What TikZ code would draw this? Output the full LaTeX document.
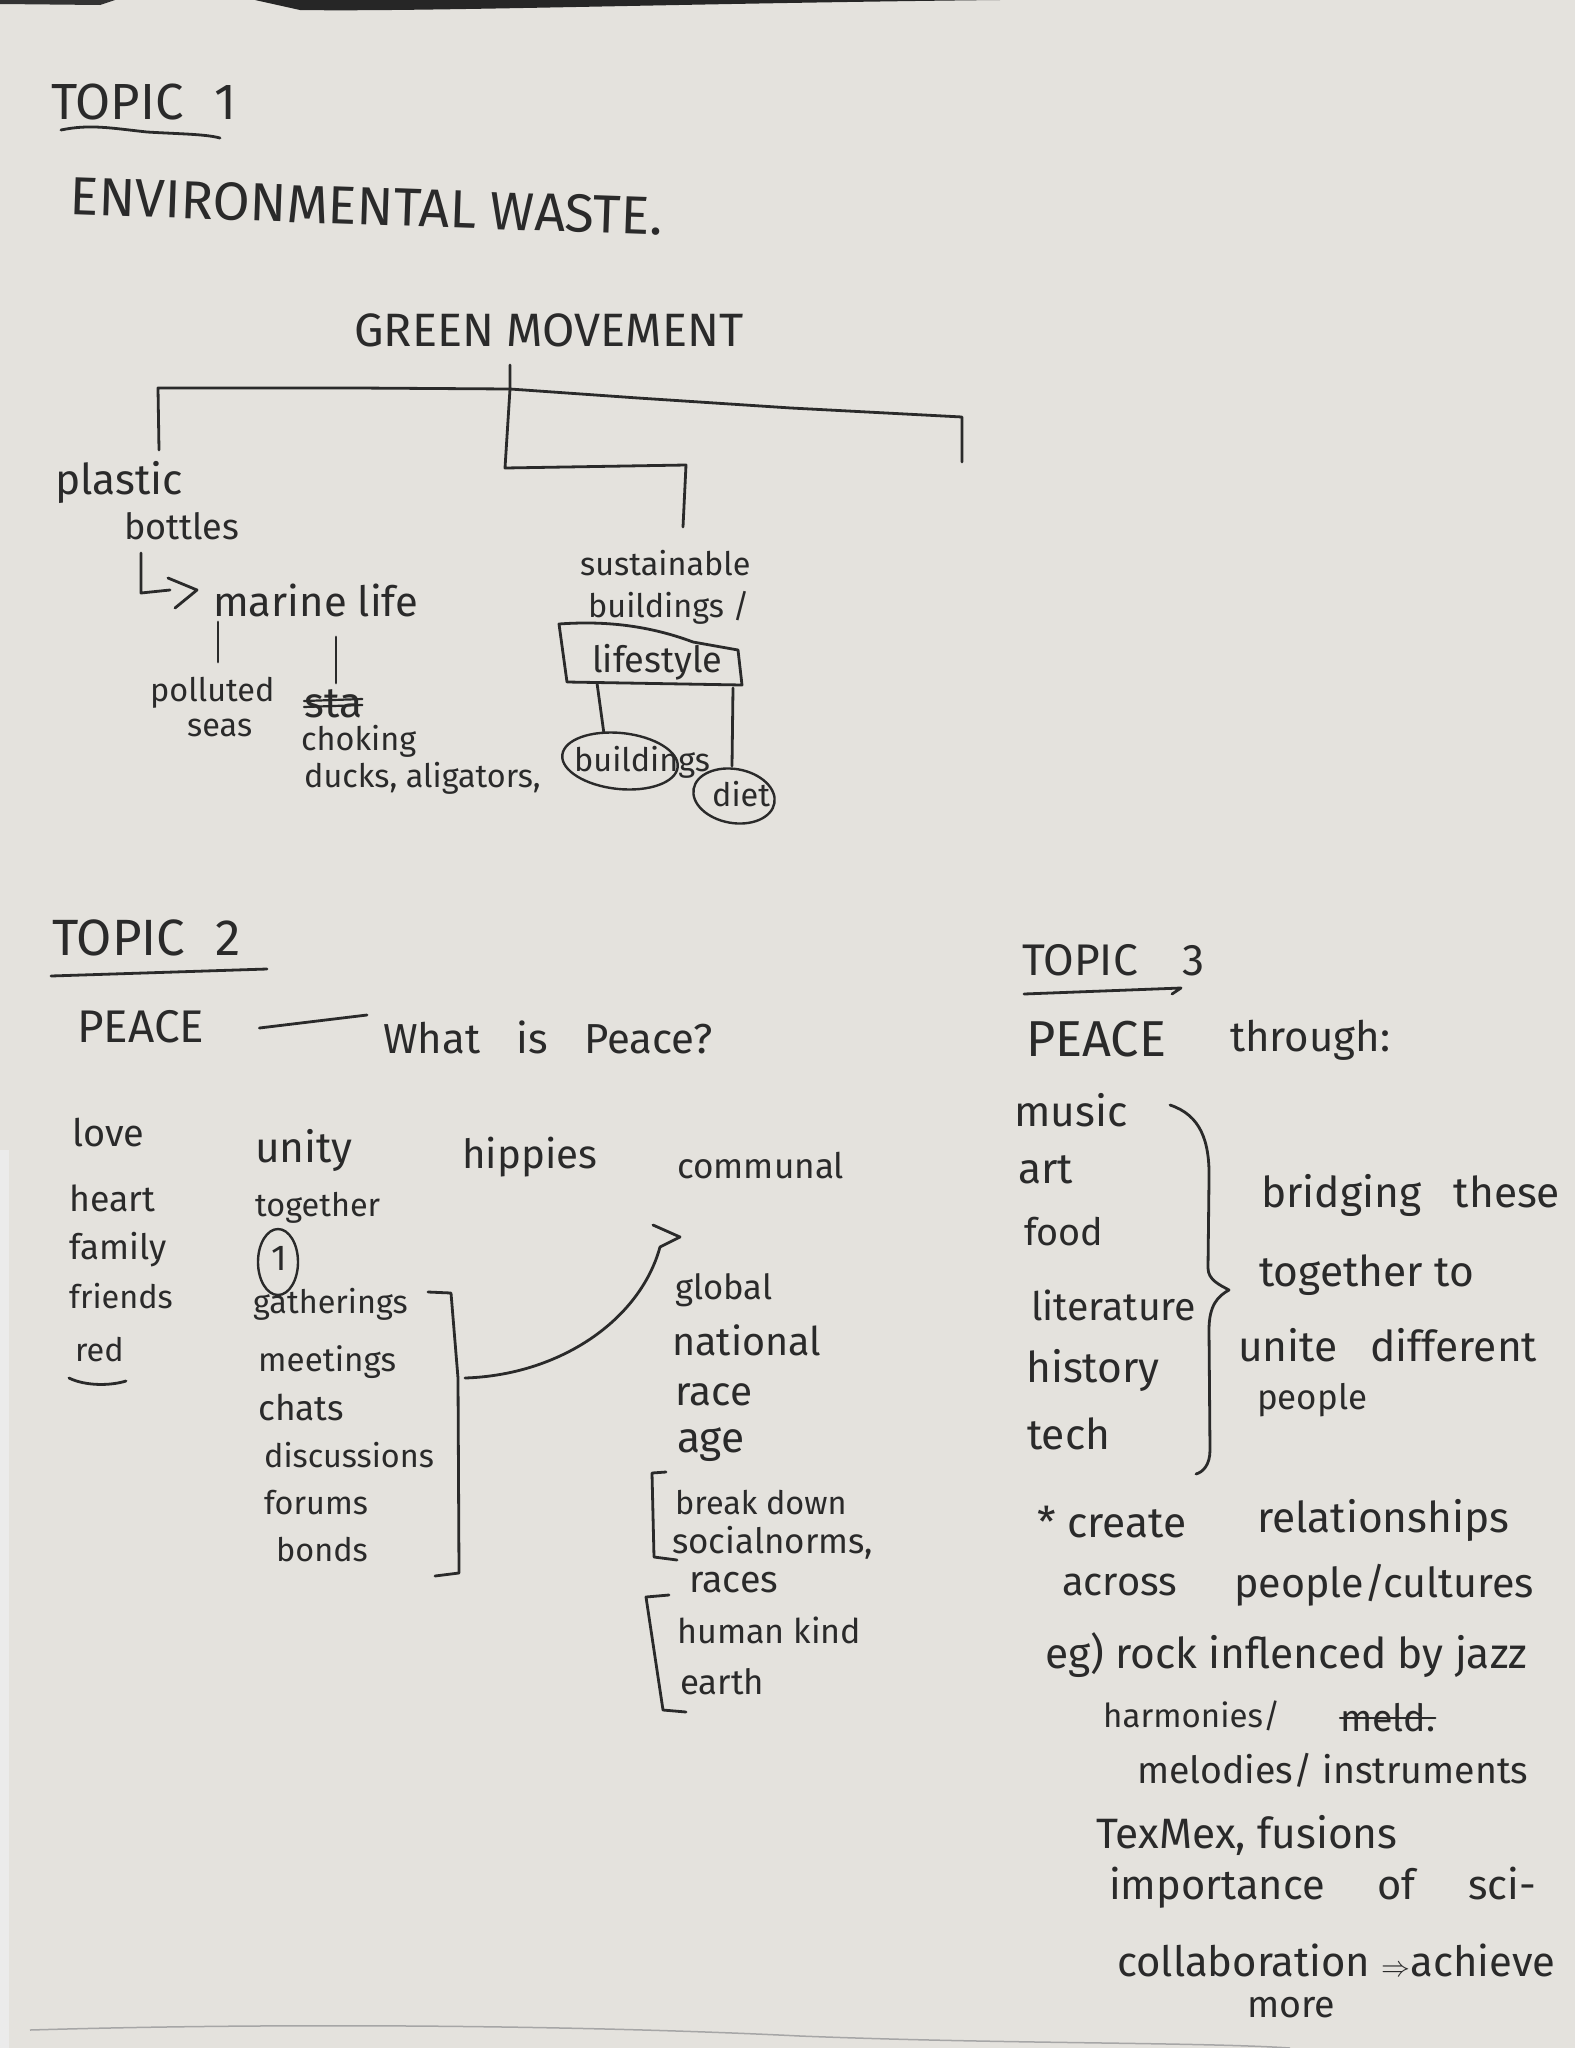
\documentclass[tikz,border=0pt]{standalone}
\usepackage{fontspec}
\usepackage{graphicx}
\setmainfont{Fira Sans}
\usetikzlibrary{shapes.geometric}
\definecolor{paper}{HTML}{E4E2DD}
\definecolor{ink}{HTML}{2A2A2A}
\newlength\hwlen
\newcommand\hw[2]{\settowidth\hwlen{#2}\pgfmathsetmacro\hwsc{max(0.9,min(1.18,#1/\hwlen))}\scalebox{\hwsc}{#2}}
\newcommand\hwc[2]{\settowidth\hwlen{#2}\pgfmathsetmacro\hwsc{max(0.8,min(1.7,#1/\hwlen))}\scalebox{\hwsc}{#2}}
\begin{document}
\begin{tikzpicture}[x=1pt,y=-1pt,
  lbl/.style={inner sep=0pt, anchor=west, text=ink, font=\fontsize{36}{40}\selectfont},
  pen/.style={draw=ink, line width=2.8pt, line cap=round, line join=round},
  thinpen/.style={draw=ink, line width=2.2pt, line cap=round, line join=round},
  ring/.style={draw=ink, line width=2.4pt, ellipse, inner sep=0pt}]
\useasboundingbox (0,0) rectangle (1575,2048);
\fill[paper] (0,0) rectangle (1575,2048);
% photo edges
\fill[black!85] (255,0) -- (1000,0) .. controls (700,3) and (420,12) .. (300,10) -- cycle;
\fill[black!80] (0,0) -- (115,0) -- (100,5) -- (0,4) -- cycle;
\fill[black!8] (0,1150) rectangle (9,2048);
\draw[black!35, line width=1.5pt] (30,2030) .. controls (300,2022) and (600,2026) .. (800,2036) .. controls (1000,2044) and (1200,2042) .. (1290,2048);

% ---------- TOPIC 1 ----------
\node[lbl] (t1) at (51,102) {\hwc{185}{TOPIC\hspace{0.6em}1}};
\draw[pen] (61,130) .. controls (90,124) and (110,128) .. (147,132) .. controls (180,134) and (205,134) .. (220,138);
\node[lbl, rotate=-2] (env) at (70,196) {\hwc{593}{ENVIRONMENTAL WASTE.}};
\node[lbl] (gm) at (354,330) {\hwc{389}{GREEN MOVEMENT}};

\coordinate (gmtop) at (510,365);
\coordinate (j) at (510,389);
\coordinate (lft) at (159,450);
\coordinate (rgt) at (962,462);
\coordinate (mid1) at (505,468);
\coordinate (mid2) at (686,465);
\coordinate (sus) at (683,527);
\draw[pen] (lft) -- (158,388) -- (357,388) -- (j) -- (638,398) -- (791,408) -- (962,417) -- (rgt);
\draw[pen] (gmtop) -- (j) -- (mid1) -- (mid2) -- (sus);

\node[lbl] (plastic) at (55,482) {\hw{128}{plastic}};
\node[lbl] (bottles) at (124,526) {\hw{115}{bottles}};
\draw[pen] (141,553) -- (141,593) -- (170,590);
\draw[pen] (168,578) -- (197,590) -- (175,608);
\node[lbl] (marine) at (213,600) {\hw{205}{marine life}};
\draw[pen] (218,622) -- (218,662);
\draw[pen] (336,637) -- (336,683);
\node[lbl] (polluted) at (150,693) {\hw{106}{polluted}};
\node[lbl] (seas) at (187,728) {\hw{60}{seas}};
\node[lbl] (sta) at (304,704) {\hw{63}{sta}};
\draw[thinpen] ([yshift=3pt]sta.west) -- ([yshift=5pt]sta.east);
\draw[thinpen] ([yshift=-3pt]sta.west) -- ([yshift=-1pt]sta.east);
\node[lbl] (choking) at (301,741) {\hw{115}{choking}};
\node[lbl] (ducks) at (304,778) {\hw{221}{ducks, aligators,}};

\node[lbl] (sust) at (580,563) {\hw{167}{sustainable}};
\node[lbl] (bldgs) at (588,608) {\hw{159}{buildings /}};
\node[lbl] (life) at (592,662) {\hw{130}{lifestyle}};
\draw[pen] (559,624) .. controls (600,621) and (645,624) .. (693,642) -- (738,650) -- (742,685) -- (567,682) -- cycle;
\node[ring, minimum width=116pt, minimum height=56pt, rotate=-6] (bell) at (620,761) {};
\node[lbl] (bword) at (574,762) {\hw{127}{buildings}};
\node[ring, minimum width=82pt, minimum height=54pt, rotate=-10] (dell) at (734,796) {};
\node[lbl] (diet) at (712,794) {\hw{50}{diet}};
\draw[pen] (597,683) -- (bell.125);
\draw[pen] (733,688) -- (732,766);

% ---------- TOPIC 2 ----------
\node[lbl] (t2) at (52,938) {\hwc{189}{TOPIC\hspace{0.6em}2}};
\draw[pen] (51,976) -- (267,969);
\node[lbl] (peace2) at (77,1027) {\hwc{127}{PEACE}};
\node[lbl] (whatis) at (383,1037) {\hw{329}{What\hspace{0.6em} is\hspace{0.6em} Peace?}};
\draw[pen] ([xshift=55pt,yshift=-1pt]peace2.east) -- ([xshift=-16pt,yshift=22pt]whatis.west);

\node[lbl] (love) at (72,1133) {\hw{72}{love}};
\node[lbl] (heart) at (69,1198) {\hw{86}{heart}};
\node[lbl] (family) at (69,1250) {\hw{97}{family}};
\node[lbl] (friends) at (69,1296) {\hw{92}{friends}};
\node[lbl] (red) at (75,1350) {\hw{48}{red}};
\draw[pen] (69,1378) .. controls (85,1386) and (110,1386) .. (126,1381);

\node[lbl] (unity) at (255,1150) {\hw{107}{unity}};
\node[lbl] (together) at (255,1208) {\hw{118}{together}};
\node[ring, minimum width=40pt, minimum height=66pt] (circ) at (278,1262) {};
\node[inner sep=0pt, text=ink, font=\fontsize{36}{40}\selectfont] (one) at (279,1258) {1};
\node[lbl] (gath) at (253,1304) {\hw{149}{gatherings}};
\node[lbl] (meet) at (258,1362) {\hw{138}{meetings}};
\node[lbl] (chats) at (258,1407) {\hw{86}{chats}};
\node[lbl] (disc) at (264,1455) {\hw{146}{discussions}};
\node[lbl] (forums) at (264,1503) {\hw{100}{forums}};
\node[lbl] (bonds) at (276,1550) {\hw{77}{bonds}};
\coordinate (brk) at (458,1378);
\draw[pen] (428,1292) -- (451,1293) -- (brk) -- (459,1573) -- (435,1576);

\node[lbl] (hippies) at (462,1157) {\hw{135}{hippies}};
\node[lbl] (communal) at (677,1166) {\hw{167}{communal}};
\coordinate (tip) at (660,1247);
\draw[pen] (brk) ++(7,0) .. controls (560,1375) and (640,1320) .. (tip);
\draw[pen] (653,1225) -- (680,1237) -- (tip);

\node[lbl] (global) at (675,1290) {\hw{97}{global}};
\node[lbl] (national) at (672,1340) {\hw{149}{national}};
\node[lbl] (race) at (675,1395) {\hw{77}{race}};
\node[lbl] (age) at (677,1445) {\hw{75}{age}};
\draw[pen] (666,1472) -- (652,1473) -- (654,1557) -- (677,1560);
\node[lbl] (brkdn) at (675,1503) {\hw{166}{break down}};
\node[lbl] (social) at (672,1543) {\hw{201}{socialnorms,}};
\node[lbl] (races) at (689,1583) {\hw{89}{races}};
\draw[pen] (669,1595) -- (646,1597) -- (663,1710) -- (686,1712);
\node[lbl] (human) at (677,1630) {\hw{184}{human kind}};
\node[lbl] (earth) at (680,1682) {\hw{84}{earth}};

% ---------- TOPIC 3 ----------
\node[lbl] (t3) at (1022,960) {\hwc{182}{TOPIC\hspace{1em}3}};
\draw[pen] (1024,994) -- (1181,988) -- (1172,994);
\node[lbl] (peace3) at (1026,1039) {\hwc{140}{PEACE}};
\node[lbl] (through) at (1230,1040) {\hw{160}{through:}};

\node[lbl] (music) at (1014,1110) {\hw{122}{music}};
\node[lbl] (art) at (1018,1170) {\hw{80}{art}};
\node[lbl] (food) at (1024,1232) {\hw{79}{food}};
\node[lbl] (lit) at (1031,1305) {\hw{165}{literature}};
\node[lbl] (hist) at (1026,1370) {\hw{142}{history}};
\node[lbl] (tech) at (1027,1434) {\hw{91}{tech}};
\draw[pen] (1170,1105) .. controls (1200,1115) and (1210,1140) .. (1209,1180) -- (1208,1268) .. controls (1208,1280) and (1220,1285) .. (1229,1290) .. controls (1218,1296) and (1209,1305) .. (1209,1330) -- (1210,1450) .. controls (1210,1465) and (1203,1472) .. (1196,1474);

\node[lbl] (bridging) at (1261,1195) {\hw{300}{bridging\hspace{0.5em} these}};
\node[lbl] (togto) at (1259,1275) {\hw{226}{together to}};
\node[lbl] (unite) at (1238,1345) {\hw{330}{unite\hspace{0.5em} different}};
\node[lbl] (people) at (1257,1400) {\hw{110}{people}};

\node[lbl] (create) at (1037,1522) {\hw{150}{* create}};
\node[lbl] (relat) at (1257,1520) {\hw{258}{relationships}};
\node[lbl] (across) at (1062,1585) {\hw{115}{across}};
\node[lbl] (pcult) at (1234,1585) {\hw{300}{people/cultures}};
\node[lbl] (eg) at (1045,1655) {\hw{521}{eg) rock inflenced by jazz}};
\node[lbl] (harm) at (1103,1716) {\hw{177}{harmonies/}};
\node[lbl] (meld) at (1340,1718) {\hw{95}{meld.}};
\draw[thinpen] (meld.west) -- (meld.east);
\node[lbl] (melod) at (1137,1770) {\hw{391}{melodies/ instruments}};
\node[lbl] (texmex) at (1096,1835) {\hw{305}{TexMex, fusions}};
\node[lbl] (import) at (1109,1888) {\hw{427}{importance\hspace{1em} of\hspace{1em} sci-}};
\node[lbl] (collab) at (1117,1960) {\hw{438}{collaboration $\Rightarrow$achieve}};
\node[lbl] (more) at (1247,2008) {\hw{88}{more}};
\end{tikzpicture}
\end{document}
